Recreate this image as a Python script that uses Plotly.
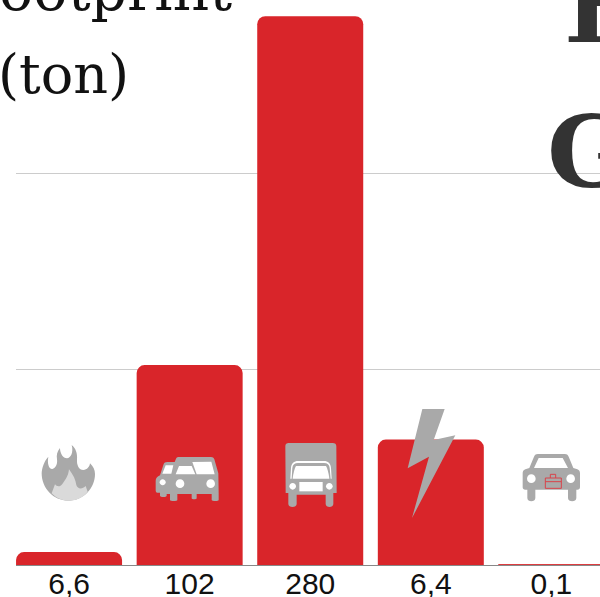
import plotly.graph_objects as go

values = [6.6, 102, 280, 64, 0.1]
labels = ["6,6", "102", "280", "6,4", "0,1"]
categories = [0, 1, 2, 3, 4]
gridvals = [100, 200]

RED = "#d9252a"
GREY = "#a9a9a9"
W, H = 600, 597
L, B = 16, 32

def X(x):
    return (x - L) / (W - L)

def Y(y):
    return 1 - y / (H - B)

def path(pts, ox=0, oy=0, s=1 / 3):
    out = []
    for c in pts:
        if isinstance(c, str):
            out.append(c)
        else:
            out.append(f"{X(ox + c[0] * s):.5f} {Y(oy + c[1] * s):.5f}")
    return " ".join(out)

def circle(cx, cy, r):
    k = 0.5523 * r
    return ["M", (cx - r, cy),
            "C", (cx - r, cy - k), (cx - k, cy - r), (cx, cy - r),
            "C", (cx + k, cy - r), (cx + r, cy - k), (cx + r, cy),
            "C", (cx + r, cy + k), (cx + k, cy + r), (cx, cy + r),
            "C", (cx - k, cy + r), (cx - r, cy + k), (cx - r, cy), "Z"]

shapes = []
def add(cmds, ox, oy, fill=GREY, line=None, width=0):
    shapes.append(dict(type="path", xref="paper", yref="paper", layer="above",
                       path=path(cmds, ox, oy), fillcolor=fill,
                       line=dict(color=line or "rgba(0,0,0,0)", width=width)))

# Flame
fo = (35, 440)
add(["M", (100, 182), "C", (55, 182), (20, 145), (20, 100),
     "C", (20, 85), (28, 62), (40, 50), "C", (36, 70), (42, 88), (52, 87),
     "C", (62, 85), (68, 72), (66, 58), "C", (64, 45), (66, 35), (75, 24),
     "C", (75, 40), (84, 55), (96, 55), "C", (108, 54), (116, 36), (110, 15),
     "C", (122, 24), (128, 40), (126, 60), "C", (125, 75), (132, 90), (145, 90),
     "C", (156, 90), (164, 80), (165, 70), "C", (175, 80), (180, 90), (180, 102),
     "C", (180, 145), (145, 182), (100, 182), "Z"], *fo, fill=GREY)
add(["M", (100, 182), "C", (80, 182), (62, 173), (50, 160), "L", (60, 133),
     "C", (65, 140), (75, 142), (82, 132), "C", (92, 118), (100, 108), (102, 88),
     "C", (115, 105), (122, 120), (124, 135), "C", (128, 148), (142, 148), (152, 138),
     "L", (158, 155), "C", (145, 173), (122, 182), (100, 182), "Z"], *fo, fill="#dadada")

# Two cars
co = (150, 450)
add(["M", (17, 92), "C", (17, 85), (22, 80), (30, 76), "L", (40, 45), "C", (42, 38), (46, 36), (52, 36),
     "L", (74, 36), "L", (78, 26), "C", (80, 22), (84, 21), (88, 21), "L", (183, 21),
     "C", (188, 21), (191, 23), (193, 28), "L", (205, 70), "L", (206, 130), "L", (206, 150),
     "C", (206, 154), (186, 154), (185, 150), "L", (185, 132), "L", (140, 132), "L", (140, 145),
     "C", (140, 149), (125, 149), (125, 145), "L", (125, 132), "L", (82, 132), "L", (82, 150),
     "C", (82, 154), (60, 154), (60, 150), "L", (60, 132), "L", (50, 132), "L", (50, 137),
     "C", (50, 142), (30, 142), (30, 137), "L", (30, 128), "L", (22, 128), "C", (18, 128), (17, 124), (17, 120), "Z"], *co)
add(["M", (37, 71), "L", (47, 46), "L", (70, 46), "L", (64, 71), "Z"], *co, fill="#ffffff")
add(["M", (77, 73), "L", (87, 48), "L", (125, 48), "L", (136, 73), "Z"], *co, fill="#ffffff")
add(["M", (127, 36), "L", (184, 35), "L", (194, 73), "L", (140, 73), "Z"], *co, fill="#ffffff")
add(circle(38, 97, 9), *co, fill="#ffffff")
add(circle(90, 101, 13), *co, fill="#ffffff")
add(circle(182, 101, 13), *co, fill="#ffffff")

# Truck
to = (280, 438)
add(["M", (16, 25), "C", (16, 18), (20, 15), (26, 15), "L", (158, 15), "C", (165, 15), (169, 18), (169, 25),
     "L", (170, 165), "L", (160, 165), "L", (160, 198), "C", (160, 210), (137, 210), (137, 198),
     "L", (137, 170), "L", (50, 170), "L", (50, 198), "C", (50, 210), (25, 210), (25, 198),
     "L", (25, 165), "L", (17, 165), "Z"], *to)
add(["M", (31, 122), "L", (33, 90), "C", (34, 76), (42, 69), (54, 69), "L", (132, 69),
     "C", (144, 69), (152, 76), (153, 90), "L", (155, 122), "L", (152, 122), "L", (149, 90),
     "C", (148, 80), (142, 75), (132, 75), "L", (54, 75), "C", (44, 75), (38, 80), (37, 90),
     "L", (35, 122), "Z"], *to, fill="#ffffff")
add(["M", (48, 84), "L", (138, 84), "C", (142, 90), (146, 105), (148, 122), "L", (38, 122),
     "C", (40, 105), (44, 90), (48, 84), "Z"], *to, fill="#ffffff")
add(["M", (58, 132), "L", (128, 132), "L", (128, 160), "L", (58, 160), "Z"], *to, fill="#ffffff")
add(circle(38, 145, 10), *to, fill="#ffffff")
add(circle(148, 145, 10), *to, fill="#ffffff")

# Bolt
add(["M", (367, 27), "L", (434, 27), "L", (401, 120), "L", (466, 106), "L", (336, 354),
     "L", (387, 170), "L", (323, 205), "Z"], 300, 400)

# Work car
vo = (518, 448)
add(["M", (60, 18), "L", (140, 18), "C", (148, 18), (150, 22), (152, 26), "L", (166, 60),
     "L", (178, 64), "C", (184, 66), (186, 70), (186, 76), "L", (186, 118), "C", (186, 123), (183, 125), (178, 125),
     "L", (175, 125), "L", (175, 150), "C", (175, 163), (150, 163), (150, 150), "L", (150, 125),
     "L", (52, 125), "L", (52, 150), "C", (52, 163), (28, 163), (28, 150), "L", (28, 125),
     "L", (22, 125), "C", (17, 125), (14, 123), (14, 118), "L", (14, 76), "C", (14, 70), (16, 66), (22, 64),
     "L", (34, 60), "L", (48, 26), "C", (50, 22), (52, 18), (60, 18), "Z"], *vo)
add(["M", (62, 30), "L", (134, 30), "L", (150, 60), "L", (48, 60), "Z"], *vo, fill="#ffffff")
add(circle(40, 92, 13), *vo, fill="#ffffff")
add(circle(158, 92, 13), *vo, fill="#ffffff")
BC = "#d8434a"
add(["M", (82, 90), "L", (130, 90), "L", (130, 121), "L", (82, 121), "Z"], *vo, fill="rgba(0,0,0,0)", line=BC, width=1)
add(["M", (97, 90), "L", (97, 79), "L", (113, 79), "L", (113, 90)], *vo, fill="rgba(0,0,0,0)", line=BC, width=1)
add(["M", (82, 101), "L", (130, 101)], *vo, fill="rgba(0,0,0,0)", line=BC, width=1)

annotations = [
    dict(text="ootprint", x=X(-2), y=Y(-44), xanchor="left", yanchor="top",
         font=dict(family="DejaVu Serif", size=57, color="#111111")),
    dict(text="(ton)", x=X(-3), y=Y(42), xanchor="left", yanchor="top",
         font=dict(family="DejaVu Serif", size=54, color="#111111")),
    dict(text="<b>F</b>", x=X(563), y=Y(-53), xanchor="left", yanchor="top",
         font=dict(family="DejaVu Serif", size=100, color="#333333")),
    dict(text="<b>G</b>", x=X(546), y=Y(92), xanchor="left", yanchor="top",
         font=dict(family="DejaVu Serif", size=100, color="#333333")),
]
for a in annotations:
    a.update(xref="paper", yref="paper", showarrow=False, align="left", borderpad=0)

fig = go.Figure(go.Bar(x=categories, y=values, width=0.879,
                       marker=dict(color=RED, line=dict(width=[0, 0, 0, 0, 1], color=RED)),
                       hoverinfo="skip"))
fig.update_layout(
    width=W, height=H, margin=dict(l=L, r=0, t=0, b=B, autoexpand=False),
    paper_bgcolor="#ffffff", plot_bgcolor="#ffffff", showlegend=False,
    barcornerradius=8, shapes=shapes, annotations=annotations,
    font=dict(family="Liberation Sans"),
)
fig.update_xaxes(range=[-0.44, 4.403], tickmode="array", tickvals=categories, ticktext=labels,
                 tickfont=dict(size=30, color="#111111", family="Liberation Sans"),
                 ticks="", ticklabelstandoff=-8, showgrid=False, automargin=False,
                 showline=True, linecolor="#888888", linewidth=1, zeroline=False, layer="below traces")
fig.update_yaxes(range=[0, (H - B) / 1.96], tickmode="array", tickvals=gridvals, showticklabels=False,
                 automargin=False,
                 ticks="", showgrid=True, gridcolor="#cccccc", gridwidth=1, zeroline=False, showline=False)
fig.write_html("out.html", config=dict(displayModeBar=False),
               post_script="document.body.style.margin='0';document.body.style.overflow='hidden';")
